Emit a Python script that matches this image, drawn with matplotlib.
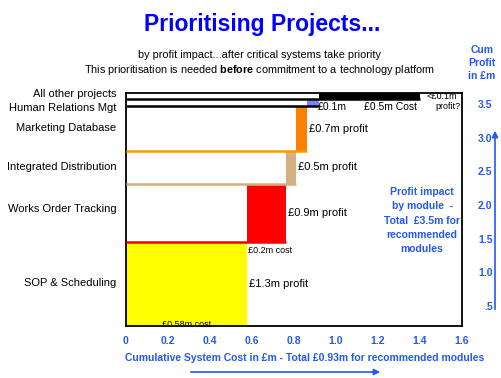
import numpy as np
import matplotlib
matplotlib.use("Agg")
import matplotlib.pyplot as plt

plt.rcParams['font.family'] = ['Liberation Sans', 'DejaVu Sans']
plt.rcParams['mathtext.fontset'] = 'custom'
plt.rcParams['mathtext.rm'] = 'Liberation Sans'
plt.rcParams['mathtext.bf'] = 'Liberation Sans:bold'

# data
projects = ['SOP & Scheduling', 'Works Order Tracking', 'Integrated Distribution',
            'Marketing Database', 'Human Relations Mgt', 'All other projects']
costs = [0.575, 0.185, 0.05, 0.05, 0.06, 0.48]     # £m
profits = [1.3, 0.9, 0.5, 0.7, 0.1, 0.1]           # £m
fill_colors = ['#FFFF00', '#FF0000', '#D2B080', '#FF8000', '#8080FF', '#000000']
edge_colors = [None, '#FF0000', '#D2B080', '#FF9900', '#000000', '#000000']
bar_notes = ['£1.3m profit', '£0.9m profit', '£0.5m profit', '£0.7m profit']
label_y = [0.68, 1.82, 2.47, 3.07, 3.38, 3.6]      # where the names sit on the left
xticks = [0, 0.2, 0.4, 0.6, 0.8, 1.0, 1.2, 1.4, 1.6]
xtick_labels = ['0', '0.2', '0.4', '0.6', '0.8', '1.0', '1.2', '1.4', '1.6']
cum_ticks = [0.5, 1.0, 1.5, 2.0, 2.5, 3.0, 3.5]
cum_labels = ['.5', '1.0', '1.5', '2.0', '2.5', '3.0', '3.5']

blue = '#2458F0'
W, H = 501, 378

def px(x, y):
    return (x / W, 1 - y / H)

fig = plt.figure(figsize=(W / 100, H / 100), dpi=100)
fig.patch.set_facecolor('white')
ax = fig.add_axes([126 / W, 1 - 326 / H, (462 - 126) / W, (326 - 93) / H])

cum_cost = np.cumsum(costs)
prev_cost = cum_cost - np.array(costs)
cum_profit = np.cumsum(profits)
prev_profit = cum_profit - np.array(profits)

for i in range(len(projects)):
    ax.fill_between([prev_cost[i], cum_cost[i]], prev_profit[i], cum_profit[i],
                    color=fill_colors[i], lw=0, zorder=2)
    if edge_colors[i] is not None:
        ax.plot([0, cum_cost[i]], [prev_profit[i], prev_profit[i]],
                color=edge_colors[i], lw=1.8, zorder=3, solid_capstyle='butt')

ax.set_xlim(0, 1.6)
ax.set_ylim(0, cum_profit[-1])
ax.set_xticks(xticks)
ax.set_xticklabels(xtick_labels, color=blue, fontsize=7.5, fontweight='bold')
centers = (prev_profit + cum_profit) / 2
ax.set_yticks(label_y)
ax.set_yticklabels(projects, fontsize=8)
ax.tick_params(axis='both', length=0)
ax.tick_params(axis='x', pad=7)
ax.tick_params(axis='y', pad=7)
for s in ax.spines.values():
    s.set_linewidth(1.3)

# right-hand cumulative profit scale
ax2 = ax.twinx()
ax2.set_ylim(0.203, 3.663)
ax2.set_yticks(cum_ticks)
ax2.set_yticklabels(cum_labels, color=blue, fontsize=7.5, fontweight='bold', ha='right')
ax2.tick_params(axis='y', length=0, pad=22)
for s in ax2.spines.values():
    s.set_visible(False)

# notes on the bars
for i in range(4):
    ax.text(cum_cost[i] + 0.01, centers[i], bar_notes[i], fontsize=8,
            va='center', ha='left', zorder=5)
ax.text(cum_cost[0] + 0.005, prev_profit[1] - 0.14, '£0.2m cost', fontsize=6.5,
        va='center', ha='left', zorder=5)
ax.text(0.17, 0.02, '£0.58m cost', fontsize=6.5, va='center', ha='left', zorder=5)
ax.text(cum_cost[4] - 0.005, 3.385, '£0.1m', fontsize=7.5,
        va='center', ha='left', zorder=5)
ax.text(1.26, 3.385, '£0.5m Cost', fontsize=7.5,
        va='center', ha='center', zorder=5)
ax.text(1.43, cum_profit[4] + 0.05, '<£0.1m', fontsize=6.5,
        va='center', ha='left', zorder=5)
ax.text(1.595, 3.385, 'profit?', fontsize=6.5,
        va='center', ha='right', zorder=5)

ax.text(1.41, 1.63, 'Profit impact\nby module  -\nTotal  £3.5m for\nrecommended\nmodules',
        color=blue, fontsize=7.5, fontweight='bold', ha='center', va='center',
        linespacing=1.55, zorder=5)

# titles
fig.text(*px(262, 25), 'Prioritising Projects...', color='#0000FF', fontsize=16.5,
         fontweight='bold', ha='center', va='center')
fig.text(*px(259, 55), 'by profit impact...after critical systems take priority',
         fontsize=7.8, ha='center', va='center')
fig.text(*px(260, 70),
         r'This prioritisation is needed $\bf{before}$ commitment to a technology platform',
         fontsize=7.8, ha='center', va='center')
fig.text(*px(482, 63), 'Cum\nProfit\nin £m', color=blue, fontsize=7.5,
         fontweight='bold', ha='center', va='center', linespacing=1.35)
fig.text(*px(305, 358), 'Cumulative System Cost in £m - Total £0.93m for recommended modules',
         color=blue, fontsize=7.5, fontweight='bold', ha='center', va='center')

# arrows
fig.add_artist(matplotlib.patches.FancyArrowPatch(px(188, 372), px(383, 372),
               transform=fig.transFigure, arrowstyle='-|>', mutation_scale=9,
               color=blue, lw=1.2))
fig.add_artist(matplotlib.patches.FancyArrowPatch(px(495, 312), px(495, 128),
               transform=fig.transFigure, arrowstyle='-|>', mutation_scale=9,
               color=blue, lw=1.2))

fig.savefig('out.png', dpi=100)
